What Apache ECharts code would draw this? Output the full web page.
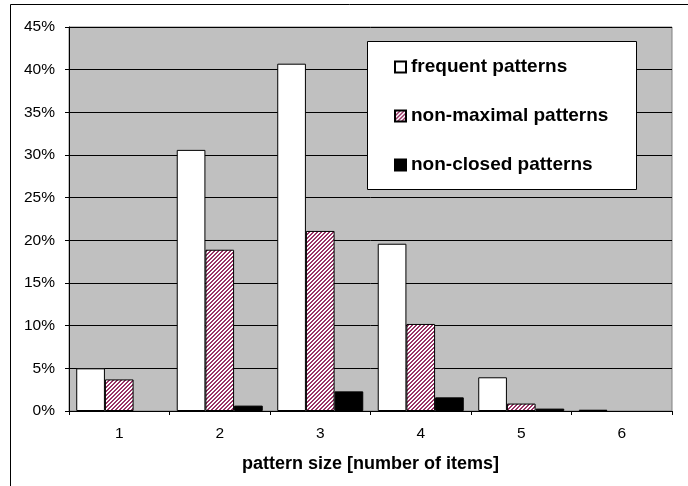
<!DOCTYPE html>
<html>
<head>
<meta charset="utf-8">
<script src="https://cdn.jsdelivr.net/npm/echarts@6/dist/echarts.min.js"></script>
<style>html,body{margin:0;padding:0;background:#fff;}#c{width:688px;height:486px;}</style>
</head>
<body>
<div id="c"></div>
<script>
const categories = ['1', '2', '3', '4', '5', '6'];
const frequentPatterns = [5.0, 30.6, 40.7, 19.6, 3.95, 0.15];
const nonMaximalPatterns = [3.7, 18.9, 21.1, 10.2, 0.87, 0];
const nonClosedPatterns = [0, 0.63, 2.3, 1.6, 0.28, 0];
const seriesNames = ['frequent patterns', 'non-maximal patterns', 'non-closed patterns'];
const yTicks = { min: 0, max: 45, interval: 5 };

// zero values are not drawn (no outline) in the reference
const shown = arr => arr.map(v => (v === 0 ? null : v));

// hatch pattern tile
const tile = document.createElement('canvas');
tile.width = 4; tile.height = 4;
const tctx = tile.getContext('2d');
for (let x = 0; x < 4; x++) {
  for (let y = 0; y < 4; y++) {
    tctx.fillStyle = ((x + y) % 4 < 2) ? '#993366' : '#ffffff';
    tctx.fillRect(x, y, 1, 1);
  }
}
const hatch = { image: tile, repeat: 'repeat' };

const font = 'Liberation Sans, Arial, sans-serif';
const chart = echarts.init(document.getElementById('c'), null, { renderer: 'canvas' });
chart.setOption({
  animation: false,
  backgroundColor: '#ffffff',
  textStyle: { fontFamily: font },
  grid: {
    left: 69, top: 27, right: 16, bottom: 75,
    show: true, backgroundColor: '#C0C0C0', borderColor: '#808080', borderWidth: 1
  },
  graphic: [
    { type: 'rect', z: 0, silent: true,
      shape: { x: 10.5, y: 4.5, width: 700, height: 500 },
      style: { fill: null, stroke: '#000', lineWidth: 1 } },
    { type: 'rect', z: 50, silent: true,
      shape: { x: 367.5, y: 41.5, width: 269, height: 148 },
      style: { fill: '#fff', stroke: '#000', lineWidth: 1 } }
  ],
  legend: {
    z: 60,
    orient: 'vertical',
    left: 394, top: 56,
    padding: 0,
    itemGap: 27,
    itemWidth: 11, itemHeight: 11,
    icon: 'rect',
    textStyle: { fontFamily: font, fontSize: 19, fontWeight: 'bold', color: '#000', lineHeight: 22 },
    data: seriesNames
  },
  xAxis: {
    type: 'category',
    data: categories,
    name: 'pattern size [number of items]',
    nameLocation: 'middle',
    nameGap: 44,
    nameTextStyle: { fontFamily: font, fontSize: 18, fontWeight: 'bold', color: '#000' },
    axisLine: { lineStyle: { color: '#000', width: 1 } },
    axisTick: { show: true, inside: false, length: 4, alignWithLabel: false, lineStyle: { color: '#000' } },
    axisLabel: { fontFamily: font, fontSize: 15.5, color: '#000', margin: 15 },
    splitLine: { show: false }
  },
  yAxis: {
    type: 'value',
    min: yTicks.min, max: yTicks.max, interval: yTicks.interval,
    axisLine: { show: true, lineStyle: { color: '#000', width: 1 } },
    axisTick: { show: true, length: 4, lineStyle: { color: '#000' } },
    axisLabel: { fontFamily: font, fontSize: 15.5, color: '#000', margin: 14, formatter: '{value}%' },
    splitLine: { show: true, lineStyle: { color: '#000', width: 1 } }
  },
  series: [
    { name: seriesNames[0], type: 'bar', data: shown(frequentPatterns), barGap: '0%', barCategoryGap: '14.4%',
      itemStyle: { color: '#ffffff', borderColor: '#000', borderWidth: 1 } },
    { name: seriesNames[1], type: 'bar', data: shown(nonMaximalPatterns), barGap: '0%', barCategoryGap: '14.4%',
      itemStyle: { color: hatch, borderColor: '#000', borderWidth: 1 } },
    { name: seriesNames[2], type: 'bar', data: shown(nonClosedPatterns), barGap: '0%', barCategoryGap: '14.4%',
      itemStyle: { color: '#000000', borderColor: '#000', borderWidth: 1 } }
  ]
});
</script>
</body>
</html>
